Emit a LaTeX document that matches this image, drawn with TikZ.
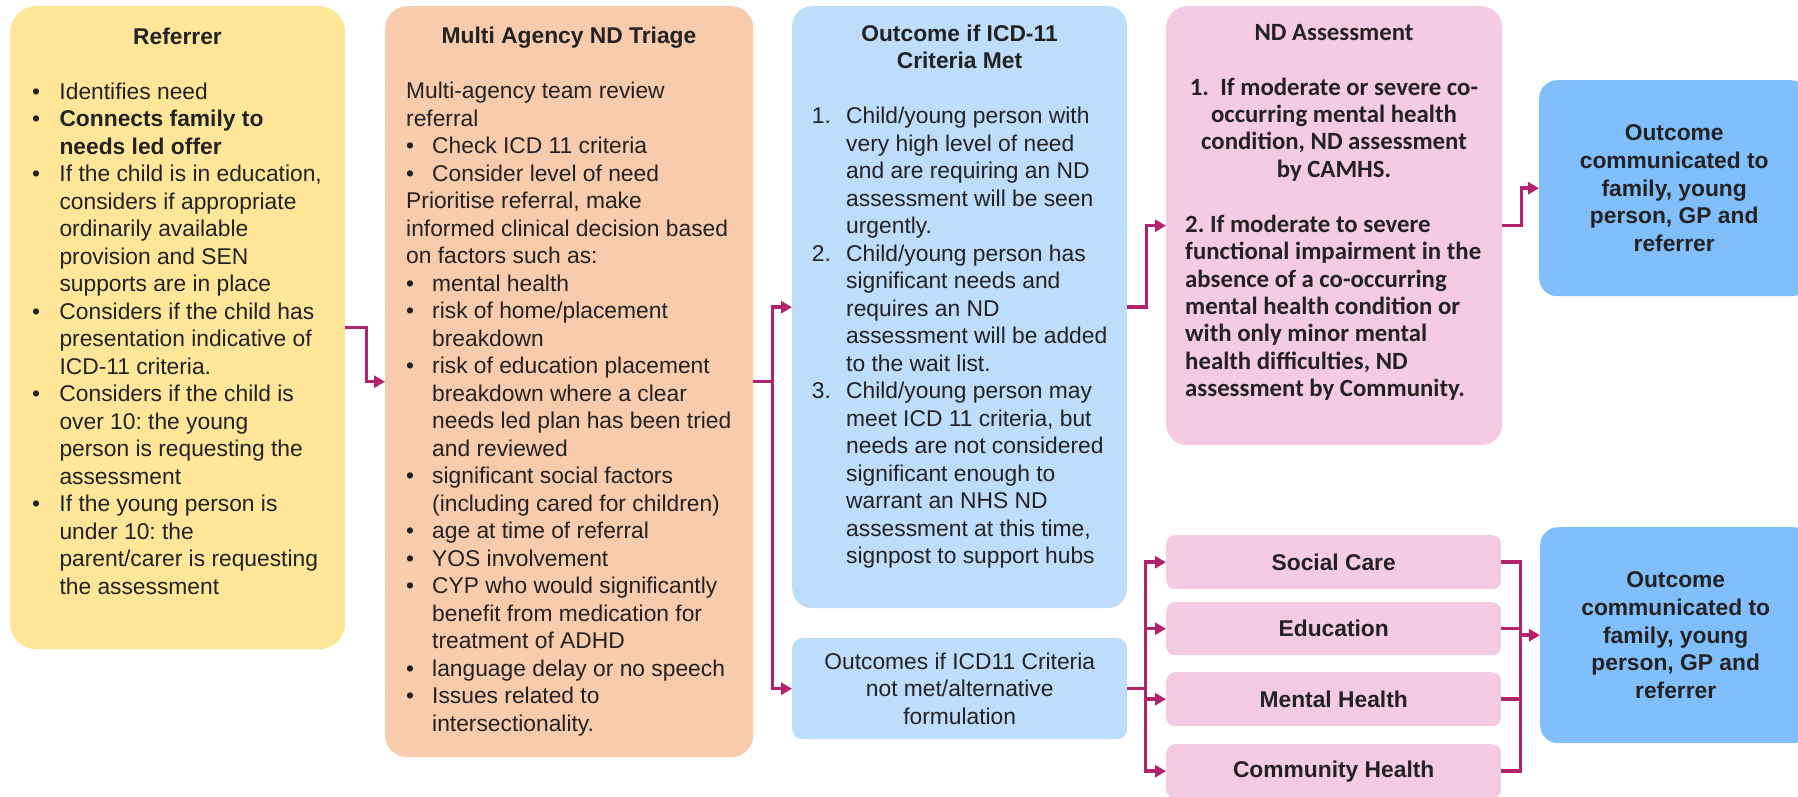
\documentclass[tikz,border=0pt]{standalone}
\usepackage{fontspec}
\setmainfont{Liberation Sans}
\newfontfamily\ndfont{Carlito}
\usetikzlibrary{arrows.meta,calc}
\definecolor{cref}{HTML}{FFE699}
\definecolor{ctri}{HTML}{F8CBAD}
\definecolor{cmet}{HTML}{BDDDFB}
\definecolor{cpink}{HTML}{F5CBE4}
\definecolor{cout}{HTML}{80BEFC}
\definecolor{carrow}{HTML}{B2226F}
\definecolor{ctext}{HTML}{222222}
\newcommand{\mybul}[1]{\makebox[#1][l]{\textbullet}}
\newcommand{\myind}[1]{\hspace*{#1}}
\newcommand{\mynum}[1]{\makebox[34.3pt][l]{#1}}
\frenchspacing
\begin{document}
\begin{tikzpicture}[x=1pt,y=-1pt,
  box/.style={draw=none, inner sep=0pt, anchor=north west, rectangle},
  txt/.style={inner sep=0pt, text=ctext, font=\fontsize{22.8}{27.5}\selectfont},
  btxt/.style={inner sep=0pt, text=ctext, font=\fontsize{22.8}{27.7}\selectfont\bfseries},
  ndtxt/.style={inner sep=0pt, text=ctext, font=\fontsize{24.8}{27.4}\selectfont\ndfont\bfseries},
  conn/.style={draw=carrow, line width=3.5pt, -{Triangle[length=11pt,width=12pt]}},
  lnk/.style={draw=carrow, line width=3.5pt}]
\useasboundingbox (0,0) rectangle (1798,796);
\fill[white] (0,0) rectangle (1798,796);
\clip (0,0) rectangle (1798,796);

% boxes
\node[box, fill=cref, minimum width=335pt, minimum height=643pt, rounded corners=26pt] (ref) at (10,6) {};
\node[box, fill=ctri, minimum width=368pt, minimum height=751pt, rounded corners=22pt] (tri) at (385,6) {};
\node[box, fill=cmet, minimum width=335pt, minimum height=602pt, rounded corners=20pt] (met) at (792,6) {};
\node[box, fill=cmet, minimum width=335pt, minimum height=101pt, rounded corners=10pt, txt, align=center] (notmet) at (792,638) {Outcomes if ICD11 Criteria\\not met/alternative\\formulation};
\node[box, fill=cpink, minimum width=336pt, minimum height=439pt, rounded corners=21pt] (nd) at (1166,6) {};
\node[box, fill=cout, minimum width=270pt, minimum height=216pt, rounded corners=18pt, btxt, align=center] (out1) at (1539,80) {Outcome\\communicated to\\family, young\\person, GP and\\referrer};
\node[box, fill=cout, minimum width=271pt, minimum height=216pt, rounded corners=18pt, btxt, align=center] (out2) at (1540,527) {Outcome\\communicated to\\family, young\\person, GP and\\referrer};
\node[box, fill=cpink, minimum width=335pt, minimum height=54pt, rounded corners=9pt, btxt] (sc) at (1166,535) {Social Care};
\node[box, fill=cpink, minimum width=335pt, minimum height=53pt, rounded corners=9pt, btxt] (ed) at (1166,602) {Education};
\node[box, fill=cpink, minimum width=335pt, minimum height=54pt, rounded corners=9pt, btxt] (mh) at (1166,672) {Mental Health};
\node[box, fill=cpink, minimum width=335pt, minimum height=54pt, rounded corners=9pt, btxt] (ch) at (1166,744) {Community Health};

% Referrer text
\node[btxt, anchor=base] (reft) at (177.5,44.3) {Referrer};
\node[txt, anchor=base west] (refl) at (32,99.3) {\begin{tabular}[t]{@{}l@{}}
\mybul{27.3pt}Identifies need\\
\mybul{27.3pt}\textbf{Connects family to}\\
\myind{27.3pt}\textbf{needs led offer}\\
\mybul{27.3pt}If the child is in education,\\
\myind{27.3pt}considers if appropriate\\
\myind{27.3pt}ordinarily available\\
\myind{27.3pt}provision and SEN\\
\myind{27.3pt}supports are in place\\
\mybul{27.3pt}Considers if the child has\\
\myind{27.3pt}presentation indicative of\\
\myind{27.3pt}ICD-11 criteria.\\
\mybul{27.3pt}Considers if the child is\\
\myind{27.3pt}over 10: the young\\
\myind{27.3pt}person is requesting the\\
\myind{27.3pt}assessment\\
\mybul{27.3pt}If the young person is\\
\myind{27.3pt}under 10: the\\
\myind{27.3pt}parent/carer is requesting\\
\myind{27.3pt}the assessment
\end{tabular}};

% Triage text
\node[btxt, anchor=base] (trit) at (569,43) {Multi Agency ND Triage};
\node[txt, anchor=base west] (tril) at (406,98.5) {\begin{tabular}[t]{@{}l@{}}
Multi-agency team review\\
referral\\
\mybul{26pt}Check ICD 11 criteria\\
\mybul{26pt}Consider level of need\\
Prioritise referral, make\\
informed clinical decision based\\
on factors such as:\\
\mybul{26pt}mental health\\
\mybul{26pt}risk of home/placement\\
\myind{26pt}breakdown\\
\mybul{26pt}risk of education placement\\
\myind{26pt}breakdown where a clear\\
\myind{26pt}needs led plan has been tried\\
\myind{26pt}and reviewed\\
\mybul{26pt}significant social factors\\
\myind{26pt}(including cared for children)\\
\mybul{26pt}age at time of referral\\
\mybul{26pt}YOS involvement\\
\mybul{26pt}CYP who would significantly\\
\myind{26pt}benefit from medication for\\
\myind{26pt}treatment of ADHD\\
\mybul{26pt}language delay or no speech\\
\mybul{26pt}Issues related to\\
\myind{26pt}intersectionality.
\end{tabular}};

% Outcome met text
\node[btxt, anchor=base] (mett) at (959.5,41) {\begin{tabular}[t]{@{}c@{}}Outcome if ICD-11\\Criteria Met\end{tabular}};
\node[txt, anchor=base west] (metl) at (811.7,123.5) {\begin{tabular}[t]{@{}l@{}}
\mynum{1.}Child/young person with\\
\myind{34.3pt}very high level of need\\
\myind{34.3pt}and are requiring an ND\\
\myind{34.3pt}assessment will be seen\\
\myind{34.3pt}urgently.\\
\mynum{2.}Child/young person has\\
\myind{34.3pt}significant needs and\\
\myind{34.3pt}requires an ND\\
\myind{34.3pt}assessment will be added\\
\myind{34.3pt}to the wait list.\\
\mynum{3.}Child/young person may\\
\myind{34.3pt}meet ICD 11 criteria, but\\
\myind{34.3pt}needs are not considered\\
\myind{34.3pt}significant enough to\\
\myind{34.3pt}warrant an NHS ND\\
\myind{34.3pt}assessment at this time,\\
\myind{34.3pt}signpost to support hubs
\end{tabular}};

% ND assessment text
\node[ndtxt, anchor=base] (ndt) at (1334,40.7) {ND Assessment};
\node[ndtxt, anchor=base] (nd1) at (1334,95) {\begin{tabular}[t]{@{}c@{}}
1.\ \ If moderate or severe co-\\
occurring mental health\\
condition, ND assessment\\
by CAMHS.
\end{tabular}};
\node[ndtxt, anchor=base west] (nd2) at (1185,232.3) {\begin{tabular}[t]{@{}l@{}}
2. If moderate to severe\\
functional impairment in the\\
absence of a co-occurring\\
mental health condition or\\
with only minor mental\\
health difficulties, ND\\
assessment by Community.
\end{tabular}};

% connectors
\draw[conn] (ref.east) -- ++(21,0) |- (tri.west);
\draw[conn] (tri.east) -- ++(19,0) coordinate (j1) |- (met.west);
\draw[conn] (j1) |- (notmet.west);
\draw[conn] (met.east) -- ++(19,0) |- (nd.west);
\draw[conn] (nd.east) -- ++(19,0) |- (out1.west);
\draw[lnk] (notmet.east) -- ++(18,0) coordinate (j2);
\draw[conn] (j2) |- (sc.west);
\draw[conn] (j2) |- (ed.west);
\draw[conn] (j2) |- (mh.west);
\draw[conn] (j2) |- (ch.west);
\draw[lnk] (sc.east) -- ++(19,0) coordinate (j3) |- (ch.east);
\draw[lnk] (ed.east) -- (ed.east -| j3);
\draw[lnk] (mh.east) -- (mh.east -| j3);
\draw[conn] (j3 |- out2.west) -- (out2.west);
\end{tikzpicture}
\end{document}
